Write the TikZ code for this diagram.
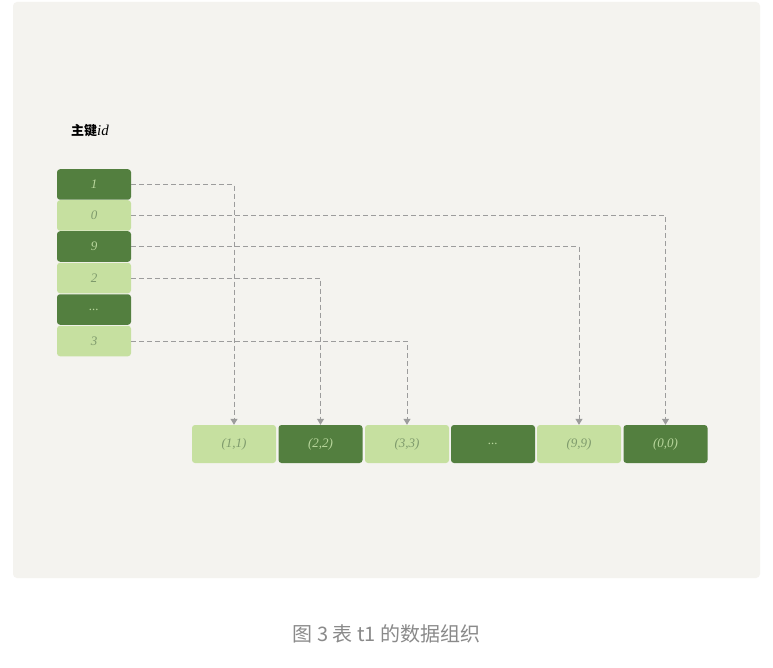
\documentclass[tikz,border=0pt]{standalone}
\usepackage{fontspec}
\setmainfont{Liberation Serif}
\newfontfamily\cjk{Noto Sans CJK SC}
\usetikzlibrary{arrows.meta}
\definecolor{panel}{HTML}{F4F3EF}
\definecolor{dkg}{HTML}{537F3F}
\definecolor{ltg}{HTML}{C6E0A0}
\definecolor{dktx}{HTML}{B8D69C}
\definecolor{lttx}{HTML}{7E9A6C}
\definecolor{dash}{HTML}{9C9C9C}
\definecolor{cap}{HTML}{8A8A8A}
\tikzset{
  keybox/.style={rounded corners=3pt, minimum width=74pt, minimum height=30.5pt, inner sep=0pt, font=\itshape\fontsize{13}{13}\selectfont},
  rowbox/.style={rounded corners=3pt, minimum width=84pt, minimum height=38pt, inner sep=0pt, font=\itshape\fontsize{13}{13}\selectfont},
  dkbox/.style={fill=dkg, text=dktx},
  ltbox/.style={fill=ltg, text=lttx},
  link/.style={draw=dash, line width=1pt, dash pattern=on 5pt off 3pt, -{Triangle[width=7pt,length=6pt]}}
}
\begin{document}
\begin{tikzpicture}[x=1pt,y=-1pt]
\useasboundingbox (0,0) rectangle (773,668);
\fill[white] (0,0) rectangle (773,668);
\fill[panel, rounded corners=4pt] (13,2) rectangle (760,578);
\node[anchor=west, inner sep=0pt, text=black] (title) at (71,131) {{\cjk\bfseries\fontsize{13}{13}\selectfont 主键}{\itshape\fontsize{15}{15}\selectfont id}};
% key column
\node[keybox, dkbox] (k1) at (94,184.5) {1};
\node[keybox, ltbox] (k0) at (94,215.5) {0};
\node[keybox, dkbox] (k9) at (94,246.5) {9};
\node[keybox, ltbox] (k2) at (94,278) {2};
\node[keybox, dkbox] (kd) at (94,309.5) {...};
\node[keybox, ltbox] (k3) at (94,341) {3};
% rows
\node[rowbox, ltbox] (r1) at (234,444) {(1,1)};
\node[rowbox, dkbox] (r2) at (320.5,444) {(2,2)};
\node[rowbox, ltbox] (r3) at (407,444) {(3,3)};
\node[rowbox, dkbox] (rd) at (493,444) {...};
\node[rowbox, ltbox] (r9) at (579,444) {(9,9)};
\node[rowbox, dkbox] (r0) at (665.5,444) {(0,0)};
% links
\draw[link] (k1.east) -| (r1.north);
\draw[link] (k0.east) -| (r0.north);
\draw[link] (k9.east) -| (r9.north);
\draw[link] (k2.east) -| (r2.north);
\draw[link] (k3.east) -| (r3.north);
% caption
\node[font=\cjk\fontsize{20}{20}\selectfont, text=cap] (caption) at (386.5,634) {图 3 表 t1 的数据组织};
\end{tikzpicture}
\end{document}
